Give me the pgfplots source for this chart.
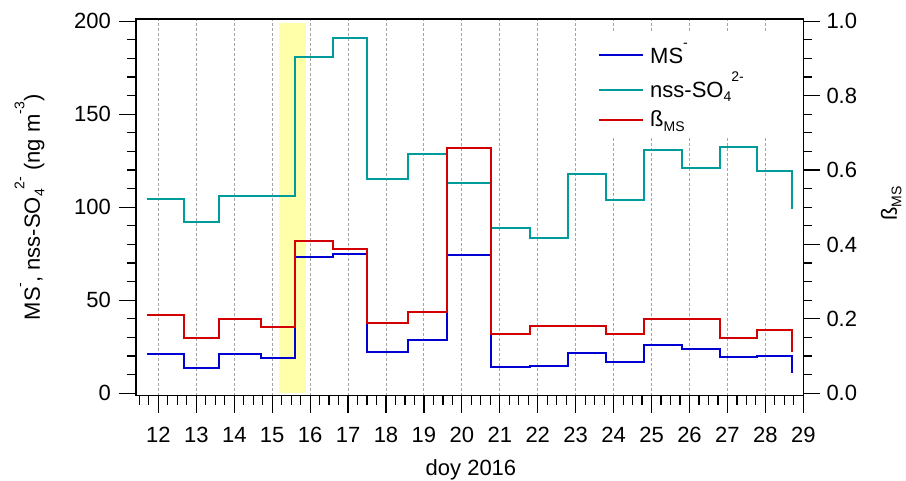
\documentclass[border=0pt]{standalone}
\usepackage{fontspec}
\setmainfont{Liberation Sans}
\usepackage{pgfplots}
\pgfplotsset{compat=1.18}
\definecolor{msblue}{RGB}{0,0,210}
\definecolor{nssteal}{RGB}{0,155,155}
\definecolor{betared}{RGB}{210,0,0}
\definecolor{bandyellow}{RGB}{255,255,170}
\definecolor{gridgray}{RGB}{165,165,165}
\newcommand{\tickfont}{\fontsize{22}{26}\selectfont}
\newcommand{\sups}[1]{\raisebox{15.5pt}{\fontsize{14}{15}\selectfont #1}}
\newcommand{\subs}[1]{\raisebox{-4.5pt}{\fontsize{14}{15}\selectfont #1}}

\pgfplotstableread{
x      ms    nss    beta
11.694 21.3  104.5  0.210
12.685 13.8   92.3  0.149
13.599 21.1  105.9  0.200
14.698 18.8  106.2  0.179
15.593 73.3  180.8  0.409
16.594 74.9  191.2  0.389
17.498 22.2  115.2  0.189
18.586 28.5  128.7  0.219
19.597 74.2  113.1  0.659
20.772 14.0   88.9  0.160
21.792 14.8   83.5  0.180
22.793 21.8  117.9  0.180
23.794 17.0  103.8  0.160
24.795 25.8  131.0  0.199
25.796 23.7  121.0  0.199
26.797 19.4  132.6  0.149
27.790 20.2  119.7  0.170
28.702 11.1   98.9  0.112
}\datatable

\pgfplotsset{
  common/.style={
    at={(136pt,84.3pt)}, anchor=south west,
    scale only axis, width=667.3pt, height=376.7pt,
    xmin=11.41, xmax=29,
    axis line style={line width=1.3pt, black},
    tick align=outside,
    major tick length=17pt, minor tick length=9pt,
    every tick/.style={black, line width=1.2pt},
    tick label style={font=\tickfont},
    /pgf/number format/assume math mode=true,
  }
}

\begin{document}
\begin{tikzpicture}
\useasboundingbox (0,0) rectangle (906pt,480pt);
\begin{axis}[
  common,
  ymin=-1.3, ymax=201.2,
  xtick={12,...,29},
  minor xtick={11.5,11.75,...,28.8},
  ytick={0,50,100,150,200},
  minor y tick num=4,
  xtick pos=bottom, ytick pos=left,
  xmajorgrids,
  major x grid style={gridgray, dash pattern=on 3pt off 2pt, line width=1pt},
  xticklabel style={anchor=north, inner sep=0pt, yshift=-14pt},
  yticklabel style={anchor=east, inner sep=0pt},
  yticklabel shift=8pt,
  every axis x label/.style={at={(axis description cs:0.502,0)}, anchor=base, yshift=-79.3pt, font=\tickfont},
  every axis y label/.style={at={(axis description cs:-0.1439,0.5)}, rotate=90, anchor=base, font=\tickfont},
  xlabel={doy 2016},
  ylabel={MS\sups{-}, nss-SO\subs{4}\sups{2-} (ng m\sups{-3})},
]
\addplot[fill=bandyellow, draw=none, forget plot] coordinates {(15.19,0) (15.88,0) (15.88,199.1) (15.19,199.1)} -- cycle;
\addplot[const plot, color=nssteal, line width=2pt] table[x=x, y=nss] {\datatable};
\addplot[const plot, color=msblue, line width=2pt] table[x=x, y=ms] {\datatable};
\end{axis}
\begin{axis}[
  common,
  ymin=-0.0065, ymax=1.006,
  axis y line*=right,
  hide x axis,
  ytick={0,0.2,0.4,0.6,0.8,1.0},
  minor y tick num=3,
  yticklabel style={anchor=west, inner sep=0pt,
    /pgf/number format/.cd, fixed, fixed zerofill, precision=1},
  yticklabel shift=6pt,
  every axis y label/.style={at={(axis description cs:1.1404,0.5107)}, rotate=90, anchor=base, font=\tickfont},
  ylabel={ß\subs{MS}},
]
\addplot[const plot, color=betared, line width=2pt] table[x=x, y=beta] {\datatable};
\end{axis}
% legend
\fill[white] (580pt,343pt) rectangle (790pt,448pt);
\draw[msblue, line width=2pt] (599.3pt,425pt) -- (642.7pt,425pt);
\draw[nssteal, line width=2pt] (599.3pt,390pt) -- (642.7pt,390pt);
\draw[betared, line width=2pt] (599.3pt,360pt) -- (642.7pt,360pt);
\node[anchor=base west, inner sep=0pt, font=\tickfont] at (650pt,416.7pt) {MS\sups{-}};
\node[anchor=base west, inner sep=0pt, font=\tickfont] at (650pt,382.7pt) {nss-SO\subs{4}\sups{2-}};
\node[anchor=base west, inner sep=0pt, font=\tickfont] at (650pt,353.3pt) {ß\subs{MS}};
\end{tikzpicture}
\end{document}
